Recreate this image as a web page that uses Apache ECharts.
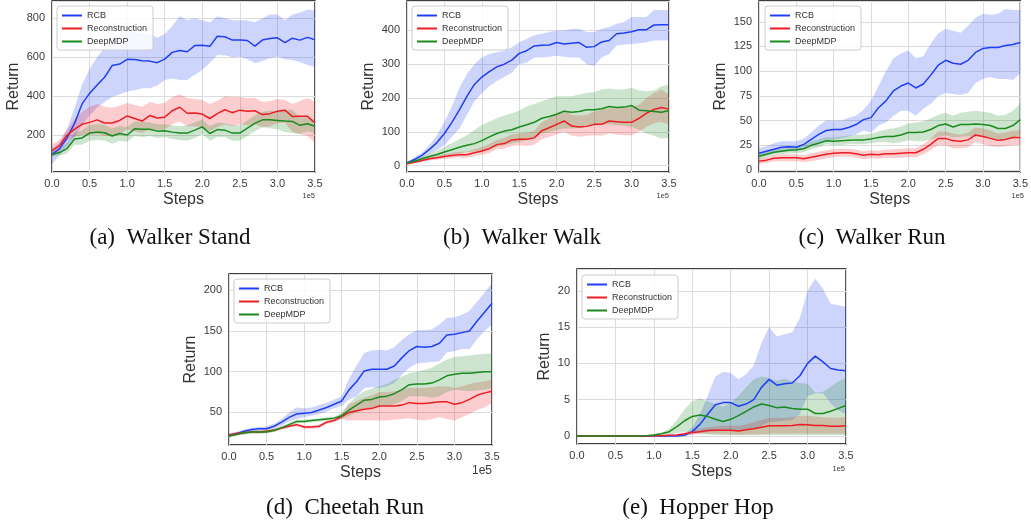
<!DOCTYPE html>
<html><head><meta charset="utf-8">
<script src="https://cdn.jsdelivr.net/npm/echarts@6/dist/echarts.min.js"></script>
<style>html,body{margin:0;padding:0;background:#fff}#c{width:1031px;height:525px}</style>
</head><body><div id="c"></div><script>
// x positions in units of 1e5 steps
const steps = [0.0,0.1,0.2,0.3,0.4,0.5,0.6,0.7,0.8,0.9,1.0,1.1,1.2,1.3,1.4,1.5,1.6,1.7,1.8,1.9,2.0,2.1,2.2,2.3,2.4,2.5,2.6,2.7,2.8,2.9,3.0,3.1,3.2,3.3,3.4,3.5];
const methods = ['RCB','Reconstruction','DeepMDP'];

// (a) Walker Stand
const standRcb    = [100,130,185,260,360,414,457,497,557,565,589,588,582,580,572,590,625,635,628,660,662,656,708,705,688,688,686,657,688,696,700,675,698,688,702,690];
const standRcbHi  = [130,160,230,340,460,540,600,650,700,720,740,730,720,720,700,720,760,810,790,800,790,780,810,800,790,790,790,780,800,820,820,790,820,830,845,840];
const standRcbLo  = [50,95,140,190,250,300,340,370,395,410,423,430,440,440,455,483,490,483,483,510,534,570,611,610,600,603,590,569,580,595,603,590,586,575,560,550];
const standRec    = [120,145,200,230,255,265,278,262,262,275,298,285,272,300,288,292,325,343,312,313,308,285,310,330,315,328,322,325,305,310,322,328,295,296,296,262];
const standRecHi  = [150,175,230,280,320,345,360,345,340,350,365,355,345,370,360,365,395,410,390,385,380,360,375,400,395,395,390,390,370,375,385,380,360,375,390,370];
const standRecLo  = [90,115,170,190,200,200,205,195,195,205,230,220,210,230,225,230,255,270,245,245,240,220,240,255,245,255,250,255,240,245,260,265,215,205,195,160];
const standDmdp   = [100,110,130,180,185,210,215,212,195,208,200,232,230,230,220,222,215,210,210,225,242,208,228,225,210,210,235,260,278,278,275,272,270,250,258,245];
const standDmdpHi = [115,130,160,210,225,250,255,252,235,245,240,270,270,265,255,255,250,245,250,265,280,245,265,260,250,250,275,300,320,325,320,330,330,290,290,280];
const standDmdpLo = [90,95,105,150,150,170,175,172,155,170,165,195,190,195,185,190,180,175,170,185,205,170,190,190,170,170,195,220,240,235,230,215,210,205,220,210];

// (b) Walker Walk
const walkRcb    = [8,18,30,48,68,95,128,165,205,240,262,278,292,300,312,332,340,354,356,357,364,360,362,364,350,352,366,370,390,392,396,402,402,416,417,417];
const walkRcbHi  = [12,24,38,60,90,130,175,230,270,300,320,330,335,340,350,365,375,385,390,395,400,400,405,405,395,395,405,410,420,425,440,440,440,460,460,460];
const walkRcbLo  = [4,12,22,34,45,60,85,110,150,190,215,235,250,262,275,300,305,320,320,322,325,322,320,320,300,295,320,330,355,358,360,362,365,370,370,370];
const walkRec    = [5,10,15,20,23,27,30,32,32,38,43,50,62,65,76,78,78,82,103,112,122,132,117,114,116,122,122,132,130,128,128,140,155,166,172,167];
const walkRecHi  = [7,13,19,25,29,34,38,41,42,48,55,64,76,82,93,95,97,103,128,140,155,165,150,148,150,160,165,170,170,172,175,180,200,215,225,210];
const walkRecLo  = [3,7,11,15,17,20,22,24,23,28,32,37,48,50,58,60,58,62,78,85,92,100,88,85,88,90,88,95,92,90,90,100,115,125,130,120];
const walkDmdp   = [8,13,20,27,33,40,47,54,60,65,74,85,95,102,106,114,121,128,140,145,152,161,158,160,165,165,168,175,172,173,178,164,162,160,158,163];
const walkDmdpHi = [10,17,26,35,44,55,66,78,90,105,120,130,140,148,155,162,175,182,190,198,205,205,205,210,215,218,225,228,225,226,230,222,220,222,235,240];
const walkDmdpLo = [6,10,15,20,24,28,31,35,40,42,45,50,55,60,65,70,75,82,95,100,105,110,110,112,115,118,120,122,120,118,115,105,95,88,80,82];

// (c) Walker Run
const runRcb    = [17,19,21,23,23.5,23,26,31,36,40,41,41,43,46,51,53,63,70,80,85,88,83,87,96,106,111,108,107,111,119,123,124,124,126,127,129];
const runRcbHi  = [22,24,27,29,29,29,32,38,45,50,50,50,53,55,61,70,85,100,113,118,121,113,115,128,138,143,141,139,146,154,158,157,158,163,162,162];
const runRcbLo  = [13,15,17,19,19,19,21,24,27,30,31,32,34,36,40,38,45,48,55,60,60,55,62,67,75,78,77,76,78,88,92,94,92,92,91,98];
const runRec    = [9,10,12,12.5,12.5,12.5,11.5,13,14.5,16,17,17.5,17.5,16.5,15,16,15.5,16.5,16.5,17,17.5,17.5,21,26,32,32,29.5,29,30.5,35.5,34,32,30,31,33,33];
const runRecHi  = [12,13,15,16,16,16,15,17,18.5,20,21,21.5,21.5,20.5,19,20,19.5,20.5,21,21.5,22,22,26,32,39,39,37,36,38,43,42,40,37,38,40,40];
const runRecLo  = [6,7,9,9,9,9,8,9,10.5,12,13,13.5,13.5,12.5,11,12,11.5,12.5,12,12.5,13,13,16,20,25,25,22,22,23,28,26,24,23,24,25,25];
const runDmdp   = [14,16,18,19,20,20.5,21.5,25,27,29.5,29,29.5,30,30.5,30.5,31.5,33,34,34,35.5,38,38,38.5,41,45,46.5,43.5,46,46,46.5,46,45,42,42,45,51];
const runDmdpHi = [17,19,21,22,23,24,25,29,31,33.5,33,34,35,35.5,36,37,39,41,42,44,47,48,49,52,56,58,55,58,59,60,59,58,55,56,60,67];
const runDmdpLo = [11,13,15,16,17,17,18,21,23,26,25,25,26,26,26,27,28,28,27,28,30,29,29,31,34,35,33,34,34,35,34,33,30,30,32,36];

// (d) Cheetah Run
const cheetahRcb    = [22,24,27,29,30,30,33,38,44,48,49,50,53,56,60,64,78,88,101,103,103,103,107,117,126,131,130,131,135,145,146,148,150,162,173,184];
const cheetahRcbHi  = [24,26,29,31,32,33,36,42,50,56,55,56,59,62,66,70,92,108,123,126,127,126,130,139,146,151,151,152,158,166,167,170,175,186,197,209];
const cheetahRcbLo  = [20,22,25,27,28,28,30,34,39,42,44,46,48,51,55,58,66,70,80,81,80,82,86,96,105,110,111,112,113,124,125,128,128,140,150,158];
const cheetahRec    = [22,24,25,26,26,27,28,31,33,35,32,32,33,38,40,45,50,52,54,55,58,58,58,59,62,61,61,62,63,63,60,62,66,71,74,76];
const cheetahRecHi  = [24,26,27,28,28,29,30,33,35,37,34,34,35,40,43,48,60,64,68,71,75,75,76,78,80,80,80,81,82,82,80,82,85,87,88,90];
const cheetahRecLo  = [20,22,23,24,24,25,26,29,31,33,30,30,31,36,38,42,40,40,40,40,40,40,41,42,43,41,40,42,44,42,40,44,48,53,56,62];
const cheetahDmdp   = [21,23,25,26,26,26,28,31,35,39,39,40,41,42,43,46,53,59,65,66,69,70,73,78,84,85,85,86,90,95,97,98,98,99,100,100];
const cheetahDmdpHi = [23,25,27,28,28,28,30,33,37,41,41,42,43,44,45,50,62,70,76,79,82,85,90,94,98,100,102,105,110,115,118,119,120,121,122,122];
const cheetahDmdpLo = [19,21,23,24,24,24,26,29,33,37,37,38,39,40,41,42,46,50,55,56,58,58,60,64,70,70,70,68,70,75,78,77,76,77,78,80];

// (e) Hopper Hop
const hopRcb    = [0,0,0,0,0,0,0,0,0,0,0,0,0,0,0.1,0.6,1.6,3.0,4.3,4.6,4.6,4.1,4.4,5.0,6.7,7.8,7.0,7.2,7.3,8.3,10.0,11.0,10.2,9.3,9.1,9.0];
const hopRcbHi  = [0,0,0,0,0,0,0,0,0,0,0,0,0,0,0.2,1.2,3.0,5.5,8.2,8.8,8.7,7.8,8.5,9.7,12.8,15.0,13.7,14.0,14.3,16.3,20.0,21.7,20.3,18.2,18.0,17.8];
const hopRcbLo  = [0,0,0,0,0,0,0,0,0,0,0,0,0,0,0,0.2,0.4,0.6,0.8,0.8,0.8,0.8,0.9,1.0,1.4,1.9,2.0,2.1,2.2,3.0,5.5,5.9,5.9,4.5,3.5,3.0];
const hopRec    = [0,0,0,0,0,0,0,0,0,0,0.02,0.05,0.1,0.15,0.3,0.5,0.6,0.75,0.8,0.8,0.8,0.7,0.85,1.0,1.2,1.4,1.4,1.4,1.45,1.6,1.55,1.45,1.45,1.35,1.35,1.4];
const hopRecHi  = [0,0,0,0,0,0,0,0,0,0,0.05,0.1,0.2,0.3,0.5,0.8,1.0,1.2,1.3,1.4,1.4,1.4,1.6,1.9,2.2,2.5,2.5,2.5,2.6,2.8,2.8,2.7,2.6,2.5,2.5,2.6];
const hopRecLo  = [0,0,0,0,0,0,0,0,0,0,0,0,0,0,0.1,0.2,0.2,0.3,0.3,0.25,0.2,0.15,0.2,0.2,0.25,0.3,0.3,0.3,0.3,0.35,0.3,0.3,0.3,0.3,0.3,0.3];
const hopDmdp   = [0,0,0,0,0,0,0,0,0,0.05,0.15,0.3,0.6,1.3,2.1,2.7,2.9,2.7,2.3,2.0,2.3,2.8,3.4,4.0,4.4,4.2,3.9,4.0,3.8,3.7,3.7,3.1,3.1,3.4,3.8,4.2];
const hopDmdpHi = [0,0,0,0,0,0,0,0,0,0.1,0.25,0.5,1.0,2.2,3.7,4.8,5.2,4.8,4.4,4.0,4.6,5.5,6.7,7.8,8.2,8.0,7.6,7.9,7.5,7.3,7.2,6.0,6.1,6.8,7.5,8.1];
const hopDmdpLo = [0,0,0,0,0,0,0,0,0,0,0.05,0.1,0.2,0.4,0.6,0.5,0.4,0.2,0.1,0.1,0.1,0.1,0.1,0.1,0.1,0.1,0.1,0.1,0.1,0.1,0.1,0.1,0.1,0.1,0.1,0.1];

const captions = ['(a)  Walker Stand','(b)  Walker Walk','(c)  Walker Run','(d)  Cheetah Run','(e)  Hopper Hop'];
const yTickSteps = [200,100,25,50,5];

const colors = ['#1f3ff5','#ee1d23','#1b8a1f'];
const FONT = 'Liberation Sans, Arial, sans-serif';

const panels = [
  {grid:{left:52,top:1,width:263,height:171}, ymin:10, ymax:889, leg:{left:57,top:6}, nameGap:30,
   d:[[standRcb,standRcbLo,standRcbHi],[standRec,standRecLo,standRecHi],[standDmdp,standDmdpLo,standDmdpHi]],
   cap:[170,238], off:[315,196,7.5]},
  {grid:{left:407,top:1,width:262,height:171}, ymin:-19, ymax:487, leg:{left:412,top:6}, nameGap:30,
   d:[[walkRcb,walkRcbLo,walkRcbHi],[walkRec,walkRecLo,walkRecHi],[walkDmdp,walkDmdpLo,walkDmdpHi]],
   cap:[522,238], off:[669,196,7.5]},
  {grid:{left:759,top:1,width:265,height:171}, ymin:-2, ymax:171, leg:{left:765,top:6}, nameGap:30,
   d:[[runRcb,runRcbLo,runRcbHi],[runRec,runRecLo,runRecHi],[runDmdp,runDmdpLo,runDmdpHi]],
   cap:[872,238], off:[1024,196,7.5]},
  {grid:{left:229,top:274,width:263,height:171}, ymin:10, ymax:220, leg:{left:234,top:279}, nameGap:30,
   d:[[cheetahRcb,cheetahRcbLo,cheetahRcbHi],[cheetahRec,cheetahRecLo,cheetahRecHi],[cheetahDmdp,cheetahDmdpLo,cheetahDmdpHi]],
   cap:[345,508], off:[492,471,12]},
  {grid:{left:577,top:269,width:269,height:175}, ymin:-1.1, ymax:23, leg:{left:582,top:275}, nameGap:24,
   d:[[hopRcb,hopRcbLo,hopRcbHi],[hopRec,hopRecLo,hopRecHi],[hopDmdp,hopDmdpLo,hopDmdpHi]],
   cap:[698,508], off:[845,469,7.5]}
];

const stepLabels = steps.map(v => v.toFixed(1));

const option = {animation:false, backgroundColor:'#fff', textStyle:{fontFamily:FONT},
  grid:[], xAxis:[], yAxis:[], series:[], legend:[], graphic:[]};

panels.forEach((p,i)=>{
  option.grid.push(Object.assign({show:true, borderColor:'#000', borderWidth:1.3, backgroundColor:'transparent', containLabel:false}, p.grid));
  option.xAxis.push({type:'category', gridIndex:i, data:stepLabels, boundaryGap:false,
    name:'Steps', nameLocation:'middle', nameGap:20, nameTextStyle:{fontSize:16, color:'#333', fontFamily:FONT},
    axisLine:{show:false}, axisTick:{show:false, interval:4},
    axisLabel:{interval:4, fontSize:11, color:'#3a3a3a', margin:6, fontFamily:FONT},
    splitLine:{show:true, interval:4, lineStyle:{color:'#dcdcdc', width:1}}});
  option.yAxis.push({type:'value', gridIndex:i, min:p.ymin, max:p.ymax, minInterval:yTickSteps[i], maxInterval:yTickSteps[i],
    name:'Return', nameLocation:'middle', nameGap:p.nameGap, nameTextStyle:{fontSize:16, color:'#333', fontFamily:FONT},
    axisLine:{show:false}, axisTick:{show:false},
    axisLabel:{fontSize:11, color:'#3a3a3a', margin:7, fontFamily:FONT, showMinLabel:false, showMaxLabel:false},
    splitLine:{show:true, lineStyle:{color:'#dcdcdc', width:1}}});
  methods.forEach((m,j)=>{
    const [mean, lo, hi] = p.d[j];
    const stackId = 'band'+i+'_'+j;
    option.series.push({type:'line', name:m+' band', xAxisIndex:i, yAxisIndex:i, stack:stackId, symbol:'none', silent:true, z:1,
      lineStyle:{opacity:0}, data:lo.slice()});
    option.series.push({type:'line', name:m+' band', xAxisIndex:i, yAxisIndex:i, stack:stackId, symbol:'none', silent:true, z:1,
      lineStyle:{opacity:0}, areaStyle:{color:colors[j], opacity:0.22}, data:hi.map((h,k)=>h - lo[k])});
  });
  methods.forEach((m,j)=>{
    const mean = p.d[j][0];
    option.series.push({type:'line', name:m, xAxisIndex:i, yAxisIndex:i, symbol:'none', showSymbol:false, z:3,
      lineStyle:{color:colors[j], width:1.5}, itemStyle:{color:colors[j]}, data:mean.slice()});
  });
  option.legend.push({data:methods, orient:'vertical', left:p.leg.left, top:p.leg.top, icon:'rect', itemWidth:20, itemHeight:2, itemGap:2,
    padding:[4,6,3,5], backgroundColor:'rgba(255,255,255,0.85)', borderColor:'#cccccc', borderWidth:1, borderRadius:3,
    textStyle:{fontSize:9, lineHeight:11, color:'#333', fontFamily:FONT}, selectedMode:false});
  option.graphic.push({type:'text', x:p.cap[0], y:p.cap[1], style:{text:captions[i], font:'23px "Liberation Serif", "Times New Roman", serif', fill:'#111', textAlign:'center', textVerticalAlign:'middle'}});
  option.graphic.push({type:'text', x:p.off[0], y:p.off[1], style:{text:'1e5', font:p.off[2]+'px '+FONT, fill:'#3a3a3a', textAlign:'right', textVerticalAlign:'middle'}});
});

const chart = echarts.init(document.getElementById('c'), null, {renderer:'canvas'});
chart.setOption(option);
</script></body></html>
